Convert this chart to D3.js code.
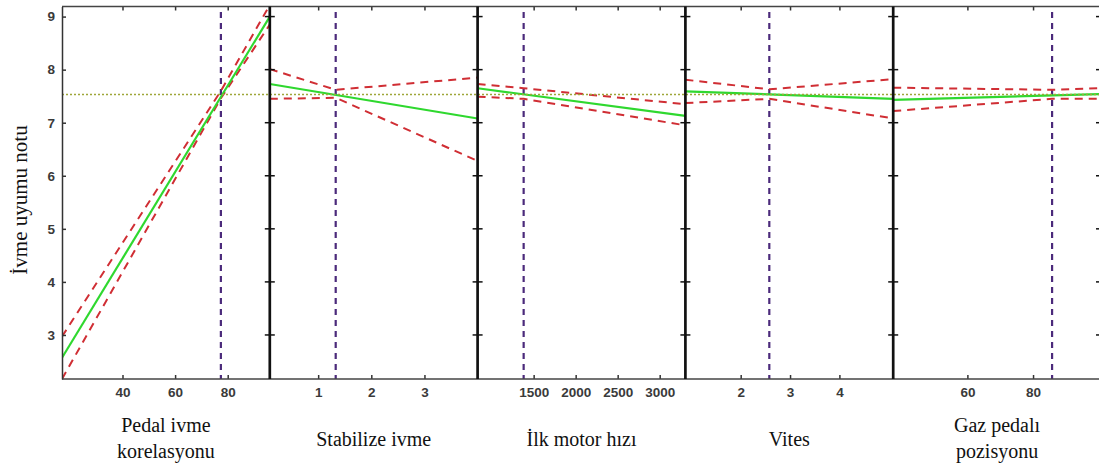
<!DOCTYPE html>
<html>
<head>
<meta charset="utf-8">
<script src="https://cdn.jsdelivr.net/npm/d3@7"></script>
<style>
  body { margin: 0; background: #fff; }
  .tick text { font-family: "Liberation Sans", Arial, sans-serif; font-size: 13.5px; font-weight: bold; fill: #3a3a3a; }
  .title { font-family: "Liberation Serif", "Times New Roman", serif; font-size: 20px; fill: #111; }
</style>
</head>
<body>
<script>
// predictor names (x axis titles, split on lines)
var titles = [["Pedal ivme", "korelasyonu"], ["Stabilize ivme"], ["İlk motor hızı"], ["Vites"], ["Gaz pedalı", "pozisyonu"]];
var xDomains = [[17, 96], [0.09, 4.0], [833, 3306], [0.88, 5.09], [37.4, 100.7]];
var xTicks = [[40, 60, 80], [1, 2, 3], [1500, 2000, 2500, 3000], [2, 3, 4], [60, 80]];
var yTicks = [3, 4, 5, 6, 7, 8, 9];
// current setting of each predictor (purple dashed line)
var current = [77.4, 1.33, 1381, 2.58, 85.8];
var predicted = 7.53;
// fitted response (green) : [x, y] pairs
var fit = [
  [[17, 2.57], [96, 9.0]],
  [[0.09, 7.73], [4.0, 7.08]],
  [[833, 7.65], [3306, 7.13]],
  [[0.88, 7.59], [5.09, 7.45]],
  [[37.4, 7.43], [100.7, 7.54]]
];
// confidence bounds (red dashed)
var upper = [
  [[17, 2.97], [77.4, 7.60], [96, 9.22]],
  [[0.09, 8.01], [1.33, 7.62], [4.0, 7.85]],
  [[833, 7.73], [1381, 7.65], [3306, 7.35]],
  [[0.88, 7.81], [2.58, 7.63], [5.09, 7.82]],
  [[37.4, 7.66], [85.8, 7.62], [100.7, 7.65]]
];
var lower = [
  [[17, 2.17], [77.4, 7.46], [96, 8.85]],
  [[0.09, 7.45], [1.33, 7.47], [4.0, 6.28]],
  [[833, 7.49], [1381, 7.45], [3306, 6.95]],
  [[0.88, 7.37], [2.58, 7.45], [5.09, 7.08]],
  [[37.4, 7.22], [85.8, 7.45], [100.7, 7.45]]
];

var W = 1099, H = 464;
var mLeft = 62, pw = 207.8, mTop = 6.5, mBottom = 379;

var svg = d3.select("body").append("svg")
    .attr("width", W)
    .attr("height", H);

var y = d3.scaleLinear().domain([2.17, 9.19]).range([mBottom, mTop]);

svg.append("clipPath").attr("id", "plotclip")
  .append("rect")
    .attr("x", mLeft).attr("y", mTop)
    .attr("width", pw * 5).attr("height", mBottom - mTop);

var line = d3.line();

titles.forEach(function (t, i) {
    var x0 = mLeft + i * pw;
    var x = d3.scaleLinear().domain(xDomains[i]).range([x0, x0 + pw]);

    // bottom axis
    var gb = svg.append("g")
        .attr("transform", "translate(0," + mBottom + ")")
        .call(d3.axisBottom(x).tickValues(xTicks[i]).tickFormat(d3.format("d"))
            .tickSize(-4).tickPadding(8).tickSizeOuter(0));
    gb.select(".domain").remove();
    gb.selectAll(".tick line").attr("stroke", "#333").attr("stroke-width", 1.5);

    // top axis (ticks only)
    var gt = svg.append("g")
        .attr("transform", "translate(0," + mTop + ")")
        .call(d3.axisTop(x).tickValues(xTicks[i]).tickSize(-4).tickFormat(""));
    gt.select(".domain").remove();
    gt.selectAll(".tick line").attr("stroke", "#333").attr("stroke-width", 1.5);

    var g = svg.append("g").attr("clip-path", "url(#plotclip)");

    // current value marker
    g.append("line")
        .attr("x1", x(current[i])).attr("x2", x(current[i]))
        .attr("y1", 12).attr("y2", mBottom)
        .attr("stroke", "#4b2a7b").attr("stroke-width", 2.2)
        .attr("stroke-dasharray", "6,5");

    // bounds
    [upper[i], lower[i]].forEach(function (b) {
        g.append("path")
            .attr("d", line(b.map(function (d) { return [x(d[0]), y(d[1])]; })))
            .attr("fill", "none")
            .attr("stroke", "#d02e34").attr("stroke-width", 2)
            .attr("stroke-dasharray", "8,6");
    });

    // fitted line
    g.append("path")
        .attr("d", line(fit[i].map(function (d) { return [x(d[0]), y(d[1])]; })))
        .attr("fill", "none")
        .attr("stroke", "#2fd82f").attr("stroke-width", 2.2);

    // titles
    var tt = svg.append("text").attr("class", "title")
        .attr("text-anchor", "middle")
        .attr("x", x0 + pw / 2);
    if (t.length == 1) {
        tt.append("tspan").attr("x", x0 + pw / 2).attr("y", 446).text(t[0]);
    } else {
        tt.append("tspan").attr("x", x0 + pw / 2).attr("y", 432).text(t[0]);
        tt.append("tspan").attr("x", x0 + pw / 2).attr("y", 458).text(t[1]);
    }
});

// horizontal predicted value line
svg.append("line")
    .attr("x1", mLeft).attr("x2", mLeft + pw * 5)
    .attr("y1", y(predicted)).attr("y2", y(predicted))
    .attr("stroke", "#9ea63a").attr("stroke-width", 1.5)
    .attr("stroke-dasharray", "2,2");

// frame lines
svg.append("line").attr("x1", mLeft).attr("x2", W).attr("y1", mTop).attr("y2", mTop)
    .attr("stroke", "#444").attr("stroke-width", 1.4);
svg.append("line").attr("x1", mLeft).attr("x2", W).attr("y1", mBottom).attr("y2", mBottom)
    .attr("stroke", "#444").attr("stroke-width", 1.5);

// left y axis
var gy = svg.append("g")
    .attr("transform", "translate(" + mLeft + ",0)")
    .call(d3.axisLeft(y).tickValues(yTicks).tickFormat(d3.format("d"))
        .tickSize(-4).tickPadding(7).tickSizeOuter(0));
gy.select(".domain").attr("stroke", "#333").attr("stroke-width", 1.5);
gy.selectAll(".tick line").attr("stroke", "#333").attr("stroke-width", 1.5);

// dividers between panels, with y ticks on both sides
for (var k = 1; k <= 5; k++) {
    var xd = mLeft + k * pw;
    svg.append("line").attr("x1", xd).attr("x2", xd).attr("y1", mTop).attr("y2", mBottom)
        .attr("stroke", "#111").attr("stroke-width", 2.7);
    svg.selectAll(null).data(yTicks).enter().append("line")
        .attr("x1", xd - 5).attr("x2", xd + 5)
        .attr("y1", function (d) { return y(d); })
        .attr("y2", function (d) { return y(d); })
        .attr("stroke", "#111").attr("stroke-width", 1.5);
}

// y axis title
svg.append("text").attr("class", "title")
    .attr("transform", "translate(27,200)rotate(-90)")
    .attr("text-anchor", "middle")
    .style("font-size", "21px")
    .text("İvme uyumu notu");
</script>
</body>
</html>
